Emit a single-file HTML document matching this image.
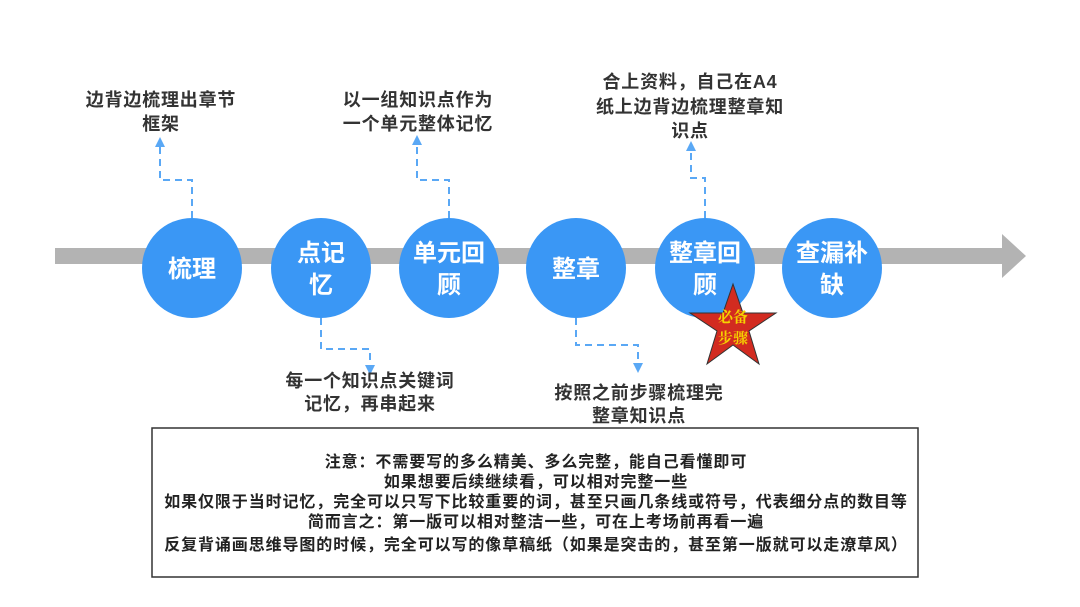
<!DOCTYPE html>
<html><head><meta charset="utf-8"><style>
html,body{margin:0;padding:0;background:#fff;}
svg{display:block;}
text{font-family:"Liberation Sans","Noto Sans CJK SC",sans-serif;font-weight:bold;}
</style></head><body>
<svg width="1080" height="607" viewBox="0 0 1080 607" xmlns="http://www.w3.org/2000/svg">
<defs>
<marker id="ah" markerWidth="10" markerHeight="10" refX="5" refY="5" orient="auto" markerUnits="userSpaceOnUse">
<path d="M0,0 L10,5 L0,10 z" fill="#5aa8f5"/></marker>
</defs>
<rect x="55" y="248" width="950" height="16" fill="#b3b3b3"/>
<path d="M1002,234 L1026,256 L1002,278 z" fill="#b3b3b3"/>
<g fill="none" stroke="#5aa8f5" stroke-width="2" stroke-dasharray="7,5">
<path d="M192,218 V180 H160 V142" marker-end="url(#ah)"/>
<path d="M449,218 V180 H417 V140" marker-end="url(#ah)"/>
<path d="M705,218 V178 H691 V146" marker-end="url(#ah)"/>
<path d="M321,318 V349 H370 V370" marker-end="url(#ah)"/>
<path d="M576,318 V345 H638 V368" marker-end="url(#ah)"/>
</g>
<g fill="#3a97f5">
<circle cx="192" cy="268" r="50"/>
<circle cx="321" cy="268" r="50"/>
<circle cx="449" cy="268" r="50"/>
<circle cx="576" cy="268" r="50"/>
<circle cx="705" cy="268" r="50"/>
<circle cx="832" cy="268" r="50"/>
</g>
<g fill="#fff" font-size="24" text-anchor="middle">
<text x="192" y="277">梳理</text>
<text x="321" y="261">点记</text><text x="321" y="293">忆</text>
<text x="449" y="261">单元回</text><text x="449" y="293">顾</text>
<text x="576" y="277">整章</text>
<text x="705" y="261">整章回</text><text x="705" y="293">顾</text>
<text x="832" y="261">查漏补</text><text x="832" y="293">缺</text>
</g>
<polygon points="733,284 743,313 776,313 749,331 759,364 733,345 707,364 717,331 690,313 723,313" fill="#d22b20" stroke="#333" stroke-width="1"/>
<g fill="#f5d200" font-size="15" text-anchor="middle">
<text x="733" y="322" style="font-family:'Liberation Serif','Noto Serif CJK SC',serif">必备</text>
<text x="733" y="343" style="font-family:'Liberation Serif','Noto Serif CJK SC',serif">步骤</text>
</g>
<g fill="#333" font-size="18" text-anchor="middle" style="letter-spacing:0.8px">
<text x="161" y="106">边背边梳理出章节</text>
<text x="161" y="130">框架</text>
<text x="418" y="106">以一组知识点作为</text>
<text x="418" y="130">一个单元整体记忆</text>
<text x="690" y="88">合上资料，自己在A4</text>
<text x="690" y="113">纸上边背边梳理整章知</text>
<text x="690" y="137">识点</text>
<text x="370" y="387">每一个知识点关键词</text>
<text x="370" y="410">记忆，再串起来</text>
<text x="639" y="399">按照之前步骤梳理完</text>
<text x="639" y="422">整章知识点</text>
</g>
<rect x="152" y="428" width="766" height="149" fill="#fff" stroke="#333" stroke-width="1.5"/>
<g fill="#222" font-size="16" text-anchor="middle" style="letter-spacing:0.9px">
<text x="536" y="467">注意：不需要写的多么精美、多么完整，能自己看懂即可</text>
<text x="536" y="487">如果想要后续继续看，可以相对完整一些</text>
<text x="536" y="507">如果仅限于当时记忆，完全可以只写下比较重要的词，甚至只画几条线或符号，代表细分点的数目等</text>
<text x="536" y="527">简而言之：第一版可以相对整洁一些，可在上考场前再看一遍</text>
<text x="536" y="550">反复背诵画思维导图的时候，完全可以写的像草稿纸（如果是突击的，甚至第一版就可以走潦草风）</text>
</g>
</svg>
</body></html>
